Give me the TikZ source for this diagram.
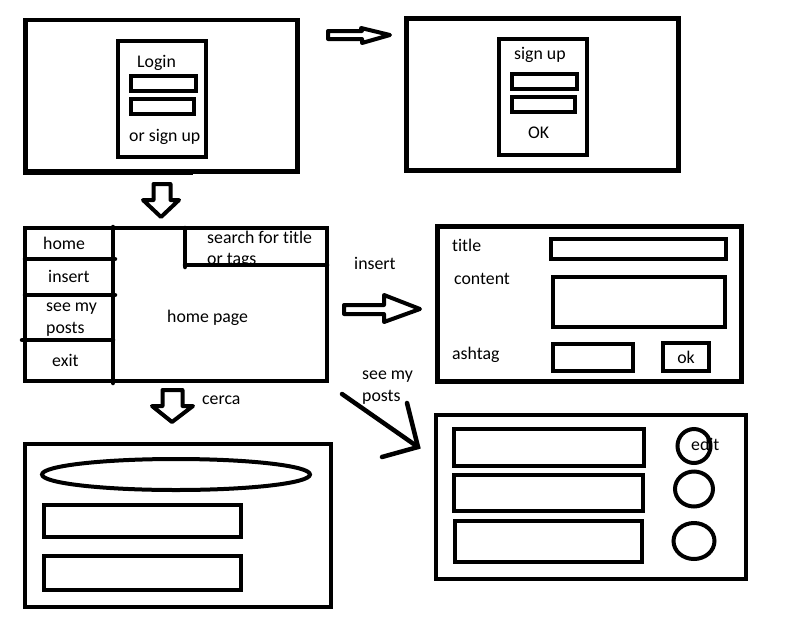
\documentclass[tikz,border=0pt]{standalone}
\usepackage{fontspec}
\setmainfont{Carlito}[Ligatures={NoCommon}]
\usetikzlibrary{shapes.geometric}
% rectangle node given by two corners: name, style, x1, y1, x2, y2
\newcommand{\uirect}[6]{%
  \node[#2, minimum width={#5-#3}, minimum height={#6-#4}] (#1)
    at ({(#3+#5)/2},{(#4+#6)/2}) {};}
\begin{document}
\begin{tikzpicture}[x=1pt, y=-1pt,
  screen/.style={draw, line width=4.5pt, inner sep=0pt, outer sep=0pt},
  panel/.style={draw, line width=4pt, inner sep=0pt, outer sep=0pt},
  field/.style={draw, line width=4pt, inner sep=0pt, outer sep=0pt},
  knob/.style={draw, ellipse, line width=4pt, inner sep=0pt, outer sep=0pt},
  lbl/.style={anchor=base west, inner sep=0pt, font=\fontsize{17.8}{22}\selectfont},
  blockarrow/.style={draw, line width=4pt, line join=round},
  stroke/.style={line width=4.5pt, line cap=round},
]
\useasboundingbox (0,0) rectangle (795,627);

% ---- login screen ----
\uirect{login}{screen}{25.5}{20}{297.5}{171.5}
\draw[line width=3pt] (23,173.5) -- (193,173.5);
\uirect{loginpanel}{panel}{118}{41}{206}{157}
\uirect{loginuser}{field}{131}{76}{196}{91}
\uirect{loginpass}{field}{131}{99}{194}{114}
\node[lbl] (logintxt) at (137,67) {Login};
\node[lbl] (signuplink) at (129,141) {or sign up};

% ---- sign up screen ----
\uirect{signup}{screen}{406.5}{18.5}{678.5}{170.5}
\uirect{signuppanel}{panel}{499}{39}{587}{155}
\uirect{signupuser}{field}{512}{74}{577}{89}
\uirect{signuppass}{field}{512}{97}{575}{112}
\node[lbl] (signuptxt) at (514,59) {sign up};
\node[lbl] (signupok) at (528,138) {OK};

% login -> sign up
\draw[blockarrow] (328,31) -- (362,31) -- (361,28) -- (390,35) -- (362,43)
  -- (362,39) -- (328,39) -- cycle;
% login -> home
\draw[blockarrow] (153.5,184) -- (170.5,184) -- (170.5,200) -- (179,200)
  -- (161,217) -- (143,200) -- (153.5,200) -- cycle;

% ---- home page ----
\uirect{home}{screen}{25}{228}{327}{381}
\draw[stroke] (113,227) -- (113,383);
\draw[stroke] (25,259) -- (115,259);
\draw[stroke] (25,295) -- (115,295);
\draw[stroke] (22,340) -- (113,340);
\draw[stroke] (185,228) -- (185,267);
\draw[stroke] (185,265) -- (327,265);
\node[lbl] (menuhome) at (43,249) {home};
\node[lbl] (menuinsert) at (48,282) {insert};
\node[lbl] (menuposts1) at (46,311) {see my};
\node[lbl] (menuposts2) at (46,333) {posts};
\node[lbl] (menuexit) at (52,366) {exit};
\node[lbl] (hometxt) at (167,322) {home page};
\node[lbl] (search1) at (207,243) {search for title};
\node[lbl] (search2) at (207,264) {or tags};

% home -> insert
\draw[blockarrow] (344,305) -- (384,305) -- (384,295) -- (420,309) -- (384,322)
  -- (384,314) -- (344,314) -- cycle;
\node[lbl] (inserttxt) at (354,269) {insert};

% ---- insert form ----
\uirect{insert}{screen}{437.5}{226.5}{741.5}{381.5}
\uirect{titlefield}{field}{551}{239}{726}{259}
\uirect{contentfield}{field}{553}{277}{725}{327}
\uirect{tagfield}{field}{553}{344}{633}{371}
\node[field, minimum width=46, minimum height=28,
  font=\fontsize{17.8}{22}\selectfont] (okbtn) at (686,357) {ok};
\node[lbl] (titletxt) at (452,251) {title};
\node[lbl] (contenttxt) at (454,284) {content};
\node[lbl] (tagtxt) at (452,359) {ashtag};

% home -> my posts
\coordinate (postsfrom) at (342,394);
\coordinate (poststip) at (418,447);
\draw[stroke] (postsfrom) -- (poststip);
\draw[stroke] (407,403) -- (poststip) -- (382,457);
\node[lbl] (poststxt1) at (362,379) {see my};
\node[lbl] (poststxt2) at (362,401) {posts};

% ---- my posts ----
\uirect{posts}{screen}{436}{415}{746}{579}
\uirect{post1}{field}{454}{429}{644}{466}
\uirect{post2}{field}{454}{475}{643}{511}
\uirect{post3}{field}{455}{521}{642}{562}
\node[knob, minimum width=33, minimum height=34] (edit1) at (694,446) {};
\node[knob, minimum width=38, minimum height=35] (edit2) at (694,489) {};
\node[knob, minimum width=41, minimum height=36] (edit3) at (694,541) {};
\node[lbl] (edittxt) at (691,450) {edit};

% home -> search results
\draw[blockarrow] (162.5,390) -- (182.5,390) -- (182.5,406) -- (193,406)
  -- (172,422) -- (152,406) -- (162.5,406) -- cycle;
\node[lbl] (cercatxt) at (202,404) {cerca};

% ---- search results ----
\uirect{results}{screen}{25}{444}{331}{607}
\node[knob, minimum width=268, minimum height=31] (searchbar) at (176,474.5) {};
\uirect{result1}{field}{44}{505}{241}{537}
\uirect{result2}{field}{44}{556}{241}{590}
\end{tikzpicture}
\end{document}
